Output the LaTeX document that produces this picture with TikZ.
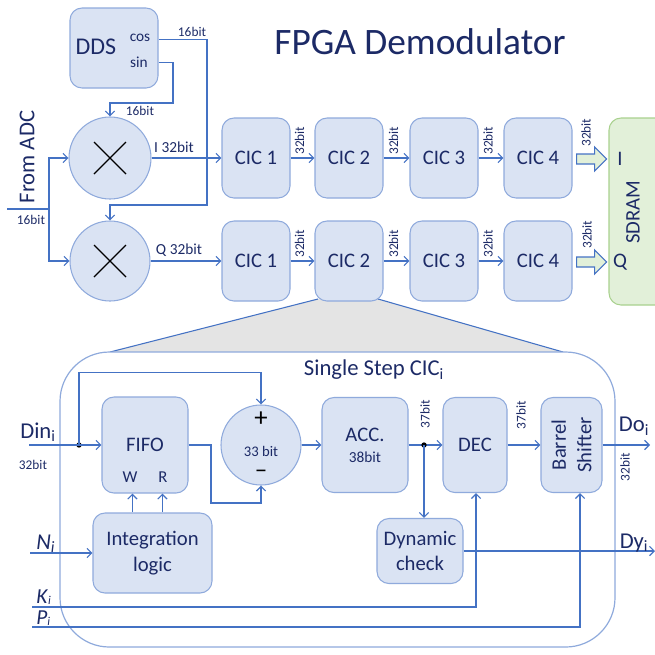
\documentclass[tikz,border=0pt]{standalone}
\usepackage{fontspec}
\setmainfont{Carlito}
\usetikzlibrary{arrows.meta,calc}
\definecolor{ln}{HTML}{4472C4}
\definecolor{bx}{HTML}{DAE3F3}
\definecolor{bxl}{HTML}{8FAADC}
\definecolor{tx}{HTML}{1C2A66}
\definecolor{gf}{HTML}{E2F0D9}
\definecolor{gl}{HTML}{A9D18E}
\definecolor{tz}{HTML}{E4E4E4}
\begin{document}
\begin{tikzpicture}[x=0.75pt,y=-0.75pt,
 box/.style={draw=bxl,fill=bx,rounded corners=9pt,line width=0.8pt,inner sep=0pt,text=tx,align=center},
 circ/.style={circle,draw=bxl,fill=bx,line width=0.8pt,inner sep=0pt,minimum size=60pt},
 wire/.style={draw=ln,line width=0.9pt},
 arr/.style={wire,-{Straight Barb[length=3.5pt,width=7pt]}},
 lab/.style={text=tx,inner sep=0pt},
 fT/.style={font=\fontsize{28}{32}\selectfont},
 fL/.style={font=\fontsize{17}{20}\selectfont},
 fM/.style={font=\fontsize{15.5}{19}\selectfont},
 fS/.style={font=\fontsize{11.5}{13}\selectfont},
 fX/.style={font=\fontsize{10}{12}\selectfont},
 cic/.style={box,fM,minimum width=51pt,minimum height=60pt},
 dot/.style={circle,fill=black,inner sep=0pt,minimum size=4pt}
]
\useasboundingbox (0,0) rectangle (655,654);
\clip (0,0) rectangle (655,654);

% ---------- title
\node[lab,fT] (title) at (420,42) {FPGA Demodulator};

% ---------- DDS and mixers
\node[box,minimum width=66pt,minimum height=60pt] (dds) at (114,48) {};
\node[lab,font=\fontsize{18}{20}\selectfont] (ddst) at (96,47) {DDS};
\node[lab,fS] (cos) at (140,38) {cos};
\node[lab,fS] (sin) at (139,62) {sin};
\coordinate (cosp) at ($(dds.north east)+(0,32)$);
\coordinate (sinp) at ($(dds.north east)+(0,55)$);

\node[circ,minimum size=61.5pt] (mixI) at (110,158) {};
\node[circ] (mixQ) at (110,261) {};
\foreach \m in {mixI,mixQ}{
  \draw[line width=1pt] ($(\m.center)+(-16,-16)$) -- ($(\m.center)+(16,16)$);
  \draw[line width=1pt] ($(\m.center)+(-16,16)$) -- ($(\m.center)+(16,-16)$);
}

\draw[arr] (cosp) -| (207,205) -| (mixQ.north);
\draw[arr] (sinp) -| (173,103) -| (mixI.north);
\node[lab,fX] (l16a) at (192,32) {16bit};
\node[lab,fX] (l16b) at (140,111) {16bit};

\coordinate (adcin) at (7,209);
\coordinate (adcj) at (49,209);
\draw[wire] (adcin) -- (adcj);
\draw[arr] (adcj) |- (mixI.west);
\draw[arr] (adcj) |- (mixQ.west);
\node[lab,fL,rotate=90] (adc) at (27,157) {From ADC};
\node[lab,fX] (l16c) at (31,220) {16bit};

% ---------- CIC chains
\node[cic] (c1a) at (256,158) {CIC 1};
\node[cic] (c2a) at (349,158) {CIC 2};
\node[cic] (c3a) at (444,158) {CIC 3};
\node[cic] (c4a) at (538,158) {CIC 4};
\node[cic] (c1b) at (256,261) {CIC 1};
\node[cic] (c3b) at (444,261) {CIC 3};
\node[cic] (c4b) at (538,261) {CIC 4};

\draw[arr] (mixI) -- (c1a);
\draw[arr] (mixQ) -- (c1b);
\node[lab,fS] (ilab) at (174,147) {I 32bit};
\node[lab,fS] (qlab) at (179,250) {Q 32bit};

% SDRAM
\node[box,draw=gl,fill=gf,minimum width=46.5pt,minimum height=140.25pt] (sdram) at (640,211.5) {};
\node[lab,fM,rotate=90] (sdt) at (633,212) {SDRAM};
\node[lab,fM] (sdI) at (620,159) {I};
\node[lab,fM] (sdQ) at (620,262) {Q};

% zoom trapezoid + panel
\coordinate (tzl) at (318,299);
\coordinate (tzr) at (378,299);
\coordinate (pl) at (110,352);
\coordinate (pr) at (563,352);
\fill[tz] (tzl) -- (tzr) -- (pr) -- (pl) -- cycle;
\draw[wire,line width=0.8pt] (tzl) -- (pl);
\draw[wire,line width=0.8pt] (tzr) -- (pr);
\node[draw=bxl,fill=white,line width=0.9pt,rounded corners=37pt,minimum width=416.25pt,minimum height=221.25pt,inner sep=0pt] (panel) at (337.5,499.5) {};

\node[cic] (c2b) at (349,261) {CIC 2};

\foreach \a/\b in {c1a/c2a,c2a/c3a,c3a/c4a,c1b/c2b,c2b/c3b,c3b/c4b}{
  \draw[arr] (\a) -- (\b);
  \node[lab,fX,rotate=90,anchor=west] at ($(\a.east)!0.5!(\b.west)+(-3,-3)$) {32bit};
}

% fat arrows to SDRAM
\foreach \c/\s in {c4a/sdI,c4b/sdQ}{
  \coordinate (fa) at ($(\c.east)+(4,1)$);
  \filldraw[fill=gf,draw=ln,line width=0.8pt] (fa) ++(0,-5) -- ++(18,0) -- ++(0,-7) -- ++(12,12) -- ++(-12,12) -- ++(0,-7) -- ++(-18,0) -- cycle;
}
\node[lab,fX,rotate=90,anchor=west] (s32a) at (586,147) {32bit};
\node[lab,fX,rotate=90,anchor=west] (s32b) at (587,249) {32bit};

% ---------- Single step CIC panel
\node[lab,fL] (ptitle) at (374,370) {Single Step CIC\textsubscript{i}};

\node[box,fM,minimum width=64.5pt,minimum height=72pt] (fifo) at (145,445) {};
\node[lab,fM] (fifot) at (145,445) {FIFO};
\node[lab,font=\fontsize{12.5}{14}\selectfont] (fw) at (130,477) {W};
\node[lab,font=\fontsize{12.5}{14}\selectfont] (fr) at (163,477) {R};

\node[circ] (sub) at (261,445) {};
\node[font=\fontsize{20}{22}\selectfont,inner sep=0pt] (plus) at (261,419) {+};
\node[lab,font=\fontsize{11}{13}\selectfont] (s33) at (261,451) {33 bit};
\node[font=\fontsize{18}{20}\selectfont,inner sep=0pt] (minus) at (261,474) {−};

\node[box,minimum width=64.5pt,minimum height=71.25pt] (acc) at (365,445) {};
\node[lab,fM] (acct) at (365,435) {ACC.};
\node[lab,font=\fontsize{11.5}{13}\selectfont] (accb) at (365,457) {38bit};

\node[box,fM,minimum width=48pt,minimum height=71.25pt] (dec) at (475,445) {DEC};
\node[box,fM,minimum width=45.75pt,minimum height=71.25pt] (bar) at (571.5,445) {};
\node[lab,fM,rotate=90,align=center] (bart) at (571.5,445) {Barrel\\Shifter};

\node[box,fM,minimum width=64.5pt,minimum height=48.75pt] (dyn) at (420,551) {Dynamic\\check};
\node[box,fM,minimum width=89.25pt,minimum height=60pt] (intg) at (152.5,553) {Integration\\logic};

% inputs
\coordinate (din) at (29,445);
\node[dot] (dot1) at (79,445) {};
\draw[arr] (din) -- (fifo.west);
\draw[arr] (dot1.center) |- ($(sub.north)+(0,-32)$) -- (sub.north);
\node[lab,fL] (dinl) at (38,432) {Din\textsubscript{i}};
\node[lab,fX] (d32) at (33,465) {32bit};

\draw[arr] (fifo.east) -| (211,503) -| (sub.south);
\draw[arr] (sub) -- (acc);
\draw[arr] (acc) -- (dec);
\node[dot] (dot2) at (424,445) {};
\draw[arr] (dot2.center) -- (dot2.center |- dyn.north);
\node[lab,fX,rotate=90] (b37a) at (425,414) {37bit};
\draw[arr] (dec) -- (bar);
\node[lab,fX,rotate=90] (b37b) at (521,415) {37bit};

\coordinate (doo) at (650,445);
\draw[arr] (bar.east) -- (doo);
\node[lab,fL] (dol) at (634,426) {Do\textsubscript{i}};
\node[lab,fX,rotate=90] (o32) at (625,467) {32bit};

\coordinate (dyo) at (655,551);
\draw[arr] (dyn.east) -- (dyo);
\node[lab,fL] (dyl) at (634,543) {Dy\textsubscript{i}};

\coordinate (iw) at ($(intg.north west)+(40,0)$);
\coordinate (ir) at ($(intg.north west)+(70,0)$);
\draw[arr] (iw) -- (iw |- fifo.south);
\draw[arr] (ir) -- (ir |- fifo.south);

\coordinate (nin) at (30,553);
\draw[arr] (nin) -- (intg.west);
\node[lab,fL,anchor=base west] (nl) at (36,549) {\textit{N}\textsubscript{\textit{i}}};

\coordinate (kin) at (32,607);
\draw[arr] (kin) -| ($(dec.south)+(1,0)$);
\node[lab,font=\fontsize{16}{18}\selectfont,anchor=base west] (kl) at (36,603) {\textit{K}\raisebox{-0.15ex}{\fontsize{9}{10}\selectfont\textit{i}}};

\coordinate (pin) at (32,627);
\draw[arr] (pin) -| ($(bar.south)+(8.5,0)$);
\node[lab,font=\fontsize{16}{18}\selectfont,anchor=base west] (pl2) at (36,624) {\textit{P}\raisebox{-0.15ex}{\fontsize{9}{10}\selectfont\textit{i}}};

\end{tikzpicture}
\end{document}
